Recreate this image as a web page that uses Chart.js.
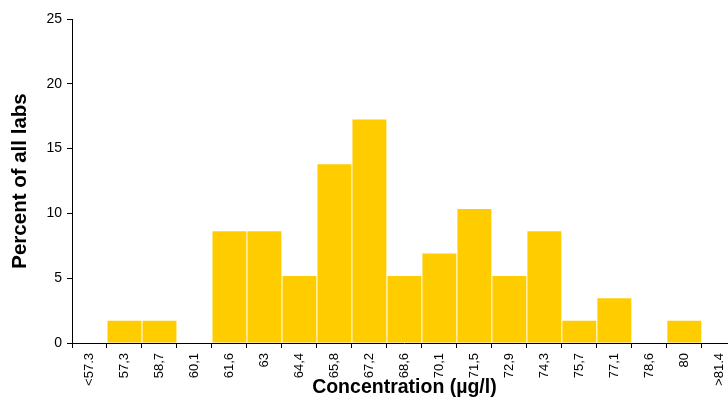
<!DOCTYPE html>
<html>
<head>
<meta charset="utf-8">
<script src="https://cdn.jsdelivr.net/npm/chart.js@4"></script>
<style>
  html, body { margin: 0; padding: 0; background: #fff; overflow: hidden; }
  #wrap { width: 740px; height: 401px; }
</style>
</head>
<body>
<div id="wrap"><canvas id="histChart" width="740" height="401"></canvas></div>
<script>
// concentration bins (µg/l) and share of labs per bin (%)
const binLabels = ['<57.3', '57,3', '58,7', '60,1', '61,6', '63', '64,4', '65,8', '67,2', '68,6',
  '70,1', '71,5', '72,9', '74,3', '75,7', '77,1', '78,6', '80', '>81.4'];
const percentLabs = [0, 1.72, 1.72, 0, 8.62, 8.62, 5.17, 13.79, 17.24, 5.17,
  6.9, 10.34, 5.17, 8.62, 1.72, 3.45, 0, 1.72, 0];
const yTicks = [0, 5, 10, 15, 20, 25];

const FONT = 'Liberation Sans, Arial, Helvetica, sans-serif';

new Chart(document.getElementById('histChart'), {
  type: 'bar',
  data: {
    labels: binLabels,
    datasets: [{
      data: percentLabs,
      backgroundColor: '#FFCC00',
      borderWidth: 0,
      barPercentage: 0.97,
      categoryPercentage: 1
    }]
  },
  options: {
    responsive: false,
    devicePixelRatio: 1,
    animation: false,
    layout: { padding: { top: 19, right: 3, bottom: 0, left: 0 } },
    plugins: { legend: { display: false }, tooltip: { enabled: false } },
    scales: {
      x: {
        grid: { drawOnChartArea: false, drawTicks: true, tickLength: 5, color: '#000', offset: true },
        border: { color: '#000', width: 1 },
        ticks: {
          autoSkip: false, maxRotation: 90, minRotation: 90, padding: 5,
          color: '#000', font: { family: FONT, size: 13 }
        },
        title: {
          display: true, text: 'Concentration (µg/l)', color: '#000',
          font: { family: FONT, size: 19.5, weight: 'bold' }, padding: { top: 0, bottom: 2 }
        },
        afterFit: s => { s.height = 58; }
      },
      y: {
        min: 0, max: 25,
        afterBuildTicks: s => { s.ticks = yTicks.map(v => ({ value: v })); },
        grid: { drawOnChartArea: false, drawTicks: true, tickLength: 5, color: '#000' },
        border: { color: '#000', width: 1 },
        ticks: { padding: 5, color: '#000', font: { family: FONT, size: 14 } },
        title: {
          display: true, text: 'Percent of all labs', color: '#000',
          font: { family: FONT, size: 20.5, weight: 'bold' }, padding: { top: 8, bottom: 0 }
        },
        afterFit: s => { s.width = 72; }
      }
    }
  }
});
</script>
</body>
</html>
